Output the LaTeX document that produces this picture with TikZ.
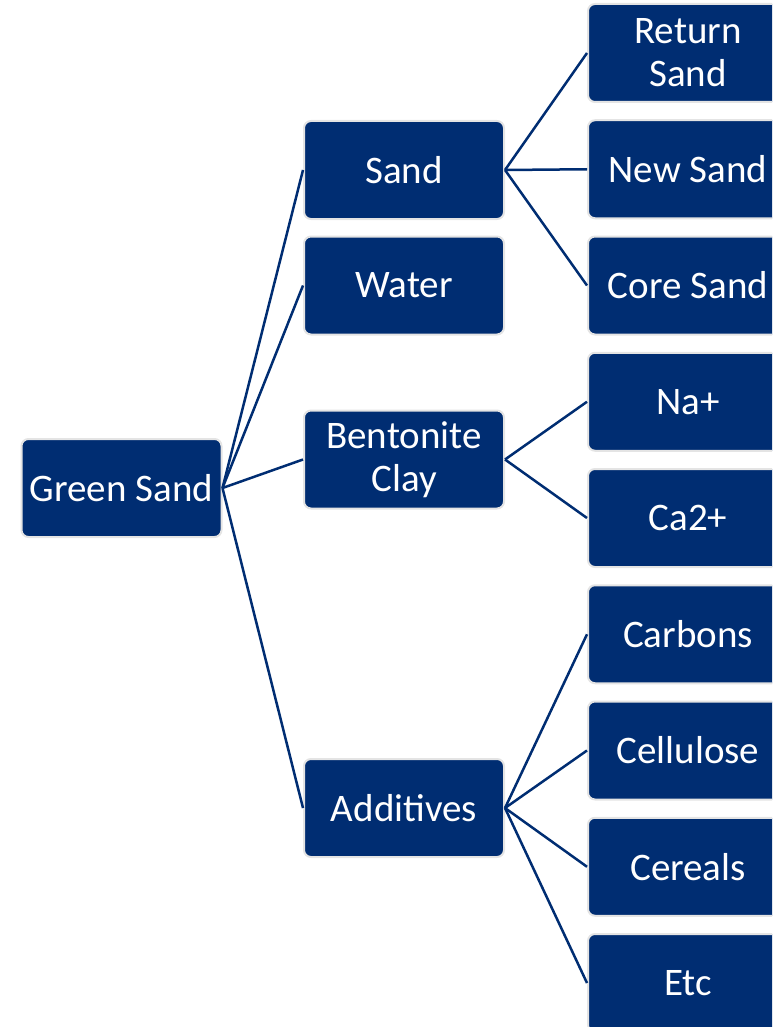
\documentclass[tikz,border=0pt]{standalone}
\usepackage{fontspec}
\setmainfont{Carlito}
\definecolor{navy}{RGB}{0,45,114}
\definecolor{rim}{RGB}{228,228,228}
\begin{document}
\begin{tikzpicture}[x=1pt,y=-1pt,
  box/.style={draw=rim, line width=2pt, fill=navy, rounded corners=7pt,
    minimum width=200pt, minimum height=98pt, inner sep=0pt,
    text=white, align=center, font=\fontsize{39}{43}\selectfont},
  link/.style={draw=navy, line width=2.5pt}]
\useasboundingbox (0,0) rectangle (772,1027);
\clip (0,0) rectangle (772,1027);
% left
\node[box] (gs) at (121.5,488) {Green Sand};
% middle
\node[box] (sand) at (404,170) {Sand};
\node[box] (water) at (404,285.5) {Water};
\node[box] (bent) at (404,459.5) {Bentonite\\Clay};
\node[box] (add) at (404,808) {Additives};
% right
\node[box] (ret) at (688,53) {Return\\Sand};
\node[box] (new) at (688,169.25) {New Sand};
\node[box] (core) at (688,285.5) {Core Sand};
\node[box] (na) at (688,401.75) {Na+};
\node[box] (ca) at (688,518) {Ca2+};
\node[box] (carb) at (688,634.25) {Carbons};
\node[box] (cell) at (688,750.5) {Cellulose};
\node[box] (cer) at (688,866.75) {Cereals};
\node[box] (etc) at (688,983) {Etc};
% connectors
\foreach \t in {sand,water,bent,add}
  \draw[link] (gs.east) -- (\t.west);
\foreach \t in {ret,new,core}
  \draw[link] (sand.east) -- (\t.west);
\foreach \t in {na,ca}
  \draw[link] (bent.east) -- (\t.west);
\foreach \t in {carb,cell,cer,etc}
  \draw[link] (add.east) -- (\t.west);
\end{tikzpicture}
\end{document}
